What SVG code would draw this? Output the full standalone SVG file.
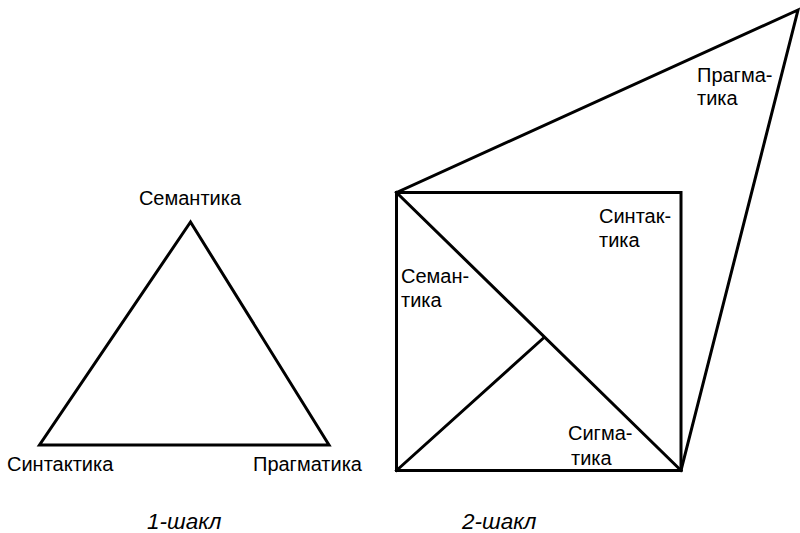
<svg xmlns="http://www.w3.org/2000/svg" width="800" height="533" viewBox="0 0 800 533">
<style>
.ln{fill:none;stroke:#000;stroke-width:3;stroke-linejoin:miter;stroke-linecap:square}
.t{font-family:"Liberation Sans",Arial,sans-serif;font-size:20px;fill:#000}
.c{font-family:"Liberation Sans",Arial,sans-serif;font-size:22.5px;font-style:italic;fill:#000}
</style>
<rect width="800" height="533" fill="#fff"/>
<g id="connectors">
<polygon class="ln" points="190.5,222 39.5,445 329,445"/>
<rect class="ln" x="396.5" y="192.5" width="284.5" height="278"/>
<polyline class="ln" points="396.5,192.5 798,10 681,470.5"/>
<line class="ln" x1="396.5" y1="192.5" x2="681" y2="470.5"/>
<line class="ln" x1="396.5" y1="470.5" x2="543.5" y2="338"/>
</g>
<g id="n1-semantika"><text class="t" x="190" y="205" text-anchor="middle">Семантика</text></g>
<g id="n1-sintaktika"><text class="t" x="7" y="471">Синтактика</text></g>
<g id="n1-pragmatika"><text class="t" x="253" y="471">Прагматика</text></g>
<g id="n2-pragmatika"><text class="t" x="697" y="82">Прагма-</text><text class="t" x="697" y="105">тика</text></g>
<g id="n2-sintaktika"><text class="t" x="599" y="223">Синтак-</text><text class="t" x="599" y="247">тика</text></g>
<g id="n2-semantika"><text class="t" x="401" y="283">Семан-</text><text class="t" x="401" y="307">тика</text></g>
<g id="n2-sigmatika"><text class="t" x="568" y="440">Сигма-</text><text class="t" x="571" y="465">тика</text></g>
<g id="cap1"><text class="c" x="147" y="529">1-шакл</text></g>
<g id="cap2"><text class="c" x="462" y="529">2-шакл</text></g>
</svg>
